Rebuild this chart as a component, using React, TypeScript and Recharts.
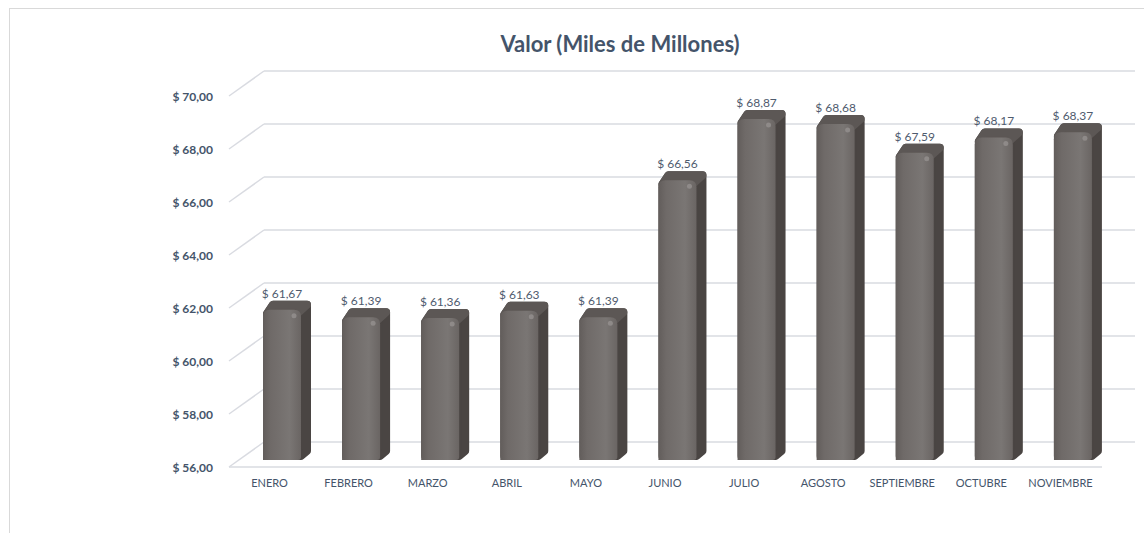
import { BarChart, Bar, XAxis, YAxis, CartesianGrid, LabelList } from "recharts"

const meses = ["ENERO", "FEBRERO", "MARZO", "ABRIL", "MAYO", "JUNIO", "JULIO", "AGOSTO", "SEPTIEMBRE", "OCTUBRE", "NOVIEMBRE"]
const valores = [61.67, 61.39, 61.36, 61.63, 61.39, 66.56, 68.87, 68.68, 67.59, 68.17, 68.37]
const yTicks = [56, 58, 60, 62, 64, 66, 68, 70]

const chartData = meses.map((mes, i) => ({ mes, valor: valores[i] }))

const FONT = "Lato, 'Noto Sans', sans-serif"
const TEXT = "#44546a"
const GRID = "#d9dbe1"
// 3d offsets
const DX = 34
const DY = 25
const FRONT_DY = 7
const BAR_SHIFT = 12

const fmt = (v: number) => "$ " + v.toFixed(2).replace(".", ",")

function GridLine(props: any) {
  const { x1, y1 } = props
  const fy = y1 + FRONT_DY
  const by = fy - DY
  return (
    <g>
      <line x1={x1 - 1} y1={fy} x2={x1 + DX} y2={by} stroke={GRID} strokeWidth={1.5} />
      <line x1={x1 + DX} y1={by} x2={1135} y2={by} stroke={GRID} strokeWidth={1.5} />
      {y1 > 450 && <line x1={x1 - 1} y1={fy} x2={1102} y2={fy} stroke={GRID} strokeWidth={1.5} />}
    </g>
  )
}

function Bar3D(props: any) {
  const { x, y, width, height } = props
  const x0 = x + BAR_SHIFT
  const w = width
  const d = 10
  const dz = 9
  const r = 7
  const k = 4
  return (
    <g>
      <path
        d={`M${x0 + k},${y + k} L${x0 + d},${y - dz + k} L${x0 + w + d - k},${y - dz + k} L${x0 + w + d - k},${y + height - dz} L${x0 + w},${y + height - k} L${x0 + k},${y + height - k} Z`}
        fill="#4a4543"
        stroke="#4a4543"
        strokeWidth={k * 2}
        strokeLinejoin="round"
      />
      <path
        d={`M${x0 + k},${y + k} L${x0 + d},${y - dz + k} L${x0 + w + d - k},${y - dz + k} L${x0 + w - k},${y + k} Z`}
        fill="#5c5755"
        stroke="#5c5755"
        strokeWidth={k * 2}
        strokeLinejoin="round"
      />
      <path
        d={`M${x0},${y + height} L${x0},${y + r} Q${x0},${y} ${x0 + r},${y} L${x0 + w - r},${y} Q${x0 + w},${y} ${x0 + w},${y + r} L${x0 + w},${y + height - 3} Q${x0 + w},${y + height} ${x0 + w - 3},${y + height} Z`}
        fill="url(#frontGrad)"
      />
      <circle cx={x0 + w - 7} cy={y + 6} r={2.5} fill="#9a9694" opacity={0.7} />
    </g>
  )
}

function ValueLabel(props: any) {
  const { x, y, width, value } = props
  return (
    <text x={x + BAR_SHIFT + width / 2} y={y - 12} textAnchor="middle" fontFamily={FONT} fontSize={12} fill="#4f5b6e">
      {fmt(value)}
    </text>
  )
}

function YTick(props: any) {
  const { y, payload } = props
  return (
    <text x={213} y={y + FRONT_DY} textAnchor="end" dominantBaseline="central" fontFamily={FONT} fontSize={12} fontWeight="bold" fill={TEXT}>
      {fmt(payload.value)}
    </text>
  )
}

function XTick(props: any) {
  const { x, y, payload } = props
  return (
    <text x={x} y={y + 14} textAnchor="middle" dominantBaseline="central" fontFamily={FONT} fontSize={11} fill={TEXT}>
      {payload.value}
    </text>
  )
}

export default function App() {
  return (
    <div style={{ position: "absolute", left: 0, top: 0, width: 1144, height: 533, background: "#fff", overflow: "hidden" }}>
      <svg width={1144} height={533} style={{ position: "absolute", left: 0, top: 0 }}>
        <rect x={9.5} y={8.5} width={1140} height={540} fill="#fff" stroke="#d9d9d9" />
        <text x={620} y={43} textAnchor="middle" dominantBaseline="central" fontFamily={FONT} fontSize={22} fontWeight="bold" fill={TEXT}>
          Valor (Miles de Millones)
        </text>
      </svg>
      <div style={{ position: "absolute", left: 0, top: 0 }}>
        <BarChart width={1144} height={533} data={chartData} margin={{ top: 89, right: 44, left: 0, bottom: 43 }}>
          <defs>
            <linearGradient id="frontGrad" x1="0" y1="0" x2="1" y2="0">
              <stop offset="0%" stopColor="#625d5b" />
              <stop offset="20%" stopColor="#6f6a68" />
              <stop offset="70%" stopColor="#7a7674" />
              <stop offset="100%" stopColor="#6a6563" />
            </linearGradient>
          </defs>
          <CartesianGrid vertical={false} horizontal={(p: any) => <GridLine key={p.key} {...p} />} />
          <XAxis dataKey="mes" axisLine={false} tickLine={false} tick={<XTick />} height={30} interval={0} />
          <YAxis domain={[56, 70]} ticks={yTicks} axisLine={false} tickLine={false} tick={<YTick />} width={230} />
          <Bar dataKey="valor" barSize={38} shape={<Bar3D />} isAnimationActive={false}>
            <LabelList dataKey="valor" content={<ValueLabel />} />
          </Bar>
        </BarChart>
      </div>
    </div>
  )
}
